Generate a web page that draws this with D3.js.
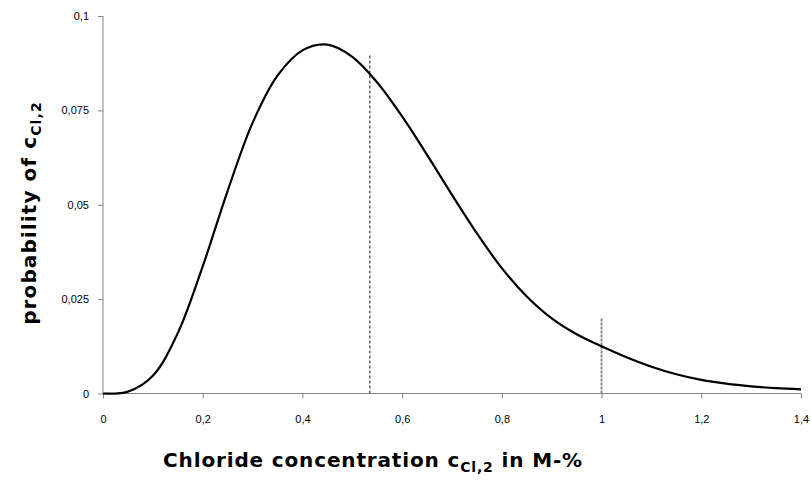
<!DOCTYPE html>
<html>
<head>
<meta charset="utf-8">
<script src="https://cdn.jsdelivr.net/npm/d3@7"></script>
<style>
  html, body { margin: 0; padding: 0; background: #fff; }
  svg { display: block; }
</style>
</head>
<body>
<svg id="chart" width="811" height="486"></svg>
<script>
// ---- data ----
const concentration = [0, 0.05, 0.10, 0.15, 0.20, 0.25, 0.30, 0.35, 0.40, 0.45, 0.50, 0.55, 0.60, 0.65, 0.70, 0.75, 0.80, 0.85, 0.90, 0.95, 1.00, 1.05, 1.10, 1.15, 1.20, 1.25, 1.30, 1.35, 1.40];
const probability   = [0, 0.0005, 0.0047, 0.0160, 0.0337, 0.0537, 0.0717, 0.0842, 0.0909, 0.0924, 0.0892, 0.0824, 0.0734, 0.0632, 0.0526, 0.0424, 0.0332, 0.0257, 0.0199, 0.0157, 0.0125, 0.0096, 0.0071, 0.0051, 0.0036, 0.0026, 0.0019, 0.0014, 0.0011];
const markerX   = [0.535, 1.0];
const markerTop = [0.09, 0.02];
const xTicks = [0, 0.2, 0.4, 0.6, 0.8, 1.0, 1.2, 1.4];
const xTickLabels = ["0", "0,2", "0,4", "0,6", "0,8", "1", "1,2", "1,4"];
const yTicks = [0, 0.025, 0.05, 0.075, 0.1];
const yTickLabels = ["0", "0,025", "0,05", "0,075", "0,1"];

// ---- layout ----
const svg = d3.select("#chart");
const x = d3.scaleLinear().domain([0, 1.4]).range([103, 801]);
const y = d3.scaleLinear().domain([0, 0.1]).range([393.5, 16]);
const axisColor = "#868686";
const tickFont = "'Liberation Sans', Arial, sans-serif";

// x axis
const xAxis = svg.append("g").attr("transform", `translate(0,${y(0)})`)
  .call(d3.axisBottom(x).tickValues(xTicks).tickSize(5).tickPadding(17)
    .tickFormat((d, i) => xTickLabels[i]));
xAxis.select(".domain").attr("stroke", axisColor).attr("d", `M${x(0)},0H${x(1.4)}`);
xAxis.selectAll(".tick line").attr("stroke", axisColor);
xAxis.selectAll(".tick text").attr("fill", "#000")
  .style("font-family", tickFont).style("font-size", "11px");

// y axis
const yAxis = svg.append("g").attr("transform", `translate(${x(0)},0)`)
  .call(d3.axisLeft(y).tickValues(yTicks).tickSize(5).tickPadding(9)
    .tickFormat((d, i) => yTickLabels[i]));
yAxis.select(".domain").attr("stroke", axisColor).attr("d", `M0,${y(0)}V${y(0.1)}`);
yAxis.selectAll(".tick line").attr("stroke", axisColor);
yAxis.selectAll(".tick text").attr("fill", "#000")
  .style("font-family", tickFont).style("font-size", "11px");

// marker lines
const markerData = markerX.map((v, i) => ({ x: v, top: markerTop[i] }));
svg.selectAll("line.marker").data(markerData).join("line")
  .attr("class", "marker")
  .attr("x1", d => x(d.x)).attr("x2", d => x(d.x))
  .attr("y1", y(0)).attr("y2", d => y(d.top))
  .attr("stroke", (d, i) => i === 0 ? "#666" : "#8c8c8c")
  .attr("stroke-width", (d, i) => i === 0 ? 1.5 : 2)
  .attr("stroke-dasharray", (d, i) => i === 0 ? "3,2" : "3,1");

// curve
const pts = concentration.map((c, i) => [c, probability[i]]);
svg.append("path").datum(pts)
  .attr("fill", "none").attr("stroke", "#000").attr("stroke-width", 2.2)
  .attr("stroke-linejoin", "round")
  .attr("d", d3.line().x(d => x(d[0])).y(d => y(d[1])).curve(d3.curveCatmullRom.alpha(0.5)));

// axis titles
const titleFont = "'DejaVu Sans', Verdana, sans-serif";
const xt = svg.append("text").attr("x", 373).attr("y", 467).attr("text-anchor", "middle")
  .style("font-family", titleFont).style("font-weight", "bold").style("font-size", "20px")
  .style("letter-spacing", "0.85px").attr("fill", "#000");
xt.append("tspan").text("Chloride concentration c");
xt.append("tspan").attr("dy", 5).style("font-size", "14px").text("Cl,2");
xt.append("tspan").attr("dy", -5).text(" in M-%");

const yt = svg.append("text").attr("transform", "translate(36,213) rotate(-90)").attr("text-anchor", "middle")
  .style("font-family", titleFont).style("font-weight", "bold").style("font-size", "20px")
  .style("letter-spacing", "1.1px").attr("fill", "#000");
yt.append("tspan").text("probability of c");
yt.append("tspan").attr("dy", 5).style("font-size", "14px").text("Cl,2");
</script>
</body>
</html>
